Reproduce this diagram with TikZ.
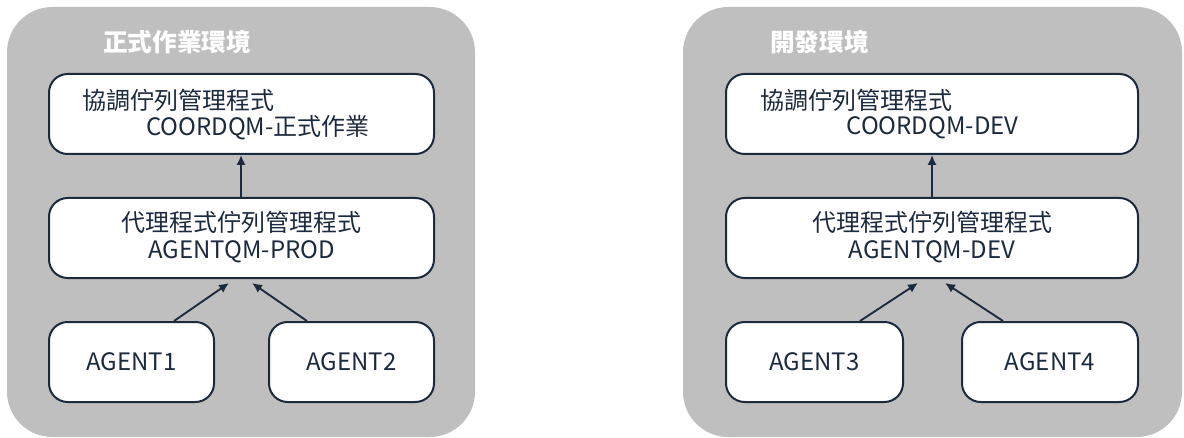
\documentclass[tikz,border=0pt]{standalone}
\usepackage{fontspec}
\setmainfont{Noto Sans CJK TC}
\usetikzlibrary{arrows.meta}
\definecolor{panelgray}{HTML}{BFBFBF}
\definecolor{navy}{HTML}{1C2A3E}
\tikzset{
  panel/.style={fill=panelgray, draw=none, rounded corners=34pt},
  qbox/.style={draw=navy, fill=white, line width=1.5pt, rounded corners=14pt, inner sep=0pt},
  lbl/.style={text=navy, font=\fontsize{18pt}{21pt}\selectfont, inner sep=0pt},
  ttl/.style={text=white, font=\fontsize{18.5pt}{21pt}\selectfont\bfseries, inner sep=0pt, anchor=west},
  arr/.style={draw=navy, line width=1.4pt, -{Latex[length=7.5pt,width=7pt]}}
}
\begin{document}
\begin{tikzpicture}[x=0.75pt,y=-0.75pt]
\useasboundingbox (0,0) rectangle (1184,438);
% panels
\path[panel] (7,7) rectangle (475,437);
\path[panel] (683,7) rectangle (1182,437);
\node[ttl] (t1) at (103,42) {正式作業環境};
\node[ttl] (t2) at (770,42) {開發環境};
% left boxes
\node[qbox, minimum width=288.75pt, minimum height=60pt] (ltop) at (241.5,114) {};
\node[qbox, minimum width=288.75pt, minimum height=60pt] (lmid) at (241.5,238) {};
\node[qbox, minimum width=123.75pt, minimum height=60pt] (a1) at (131.5,362) {};
\node[qbox, minimum width=123.75pt, minimum height=60pt] (a2) at (351.5,362) {};
% right boxes
\node[qbox, minimum width=309pt, minimum height=60pt] (rtop) at (932,114) {};
\node[qbox, minimum width=309pt, minimum height=60pt] (rmid) at (932,238) {};
\node[qbox, minimum width=132.75pt, minimum height=60pt] (a3) at (814.5,362) {};
\node[qbox, minimum width=132pt, minimum height=60pt] (a4) at (1050,362) {};
% texts
\node[lbl, anchor=west] (ltop1) at (82,100) {協調佇列管理程式};
\node[lbl] (ltop2) at (258,128) {COORDQM-正式作業};
\node[lbl] (lmid1) at (241.5,222) {代理程式佇列管理程式};
\node[lbl] (lmid2) at (241.5,252) {AGENTQM-PROD};
\node[lbl] (a1t) at (a1) {AGENT1};
\node[lbl] (a2t) at (a2) {AGENT2};
\node[lbl, anchor=west] (rtop1) at (760,100) {協調佇列管理程式};
\node[lbl] (rtop2) at (932.5,128) {COORDQM-DEV};
\node[lbl] (rmid1) at (932,222) {代理程式佇列管理程式};
\node[lbl] (rmid2) at (932,252) {AGENTQM-DEV};
\node[lbl] (a3t) at (a3) {AGENT3};
\node[lbl] (a4t) at (a4) {AGENT4};
% arrow targets
\coordinate (e1) at (229,283);
\coordinate (e2) at (252,283);
\coordinate (e3) at (918,283);
\coordinate (e4) at (945,283);
% arrows
\draw[arr] ([xshift=-0.375pt]lmid.north) -- ([xshift=-0.375pt]ltop.south);
\draw[arr] (rmid.north) -- (rtop.south);
\draw[arr] ([xshift=31.9pt]a1.north) -- (e1);
\draw[arr] ([xshift=-33.4pt]a2.north) -- (e2);
\draw[arr] ([xshift=34.1pt]a3.north) -- (e3);
\draw[arr] ([xshift=-35.25pt]a4.north) -- (e4);
\end{tikzpicture}
\end{document}
